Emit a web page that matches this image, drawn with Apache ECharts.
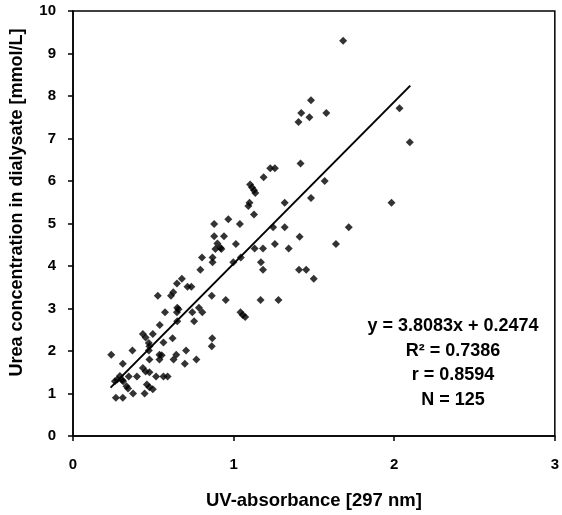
<!DOCTYPE html>
<html>
<head>
<meta charset="utf-8">
<script src="https://cdn.jsdelivr.net/npm/echarts@6/dist/echarts.min.js"></script>
<style>
  html, body { margin: 0; padding: 0; background: #fff; }
  #chart { width: 562px; height: 515px; }
</style>
</head>
<body>
<div id="chart"></div>
<script>
// UV-absorbance [297 nm]
const absorbance = [
  1.099, 1.092, 1.318, 1.127, 0.879, 0.967, 1.039, 0.879, 0.940, 0.899,
  0.918, 0.887, 0.924, 1.014, 1.246, 1.318, 1.411, 1.257, 1.343, 1.131,
  1.183, 1.170, 1.183, 1.407, 1.452, 1.045, 0.998, 0.803, 0.869, 0.869,
  0.793, 0.678, 0.647, 0.713, 0.737, 0.528, 0.610, 0.624, 0.864, 0.951,
  1.168, 1.279, 0.649, 0.657, 0.647, 0.573, 0.743, 0.784, 0.805, 0.754,
  0.649, 1.043, 1.057, 1.072, 0.540, 0.435, 0.452, 0.497, 0.472, 0.476,
  0.563, 0.620, 0.867, 0.864, 0.238, 0.370, 0.472, 0.538, 0.552, 0.704,
  0.643, 0.626, 0.696, 0.768, 0.310, 0.476, 0.538, 0.435, 0.452, 0.476,
  0.398, 0.517, 0.563, 0.589, 0.292, 0.275, 0.306, 0.347, 0.312, 0.261,
  0.333, 0.343, 0.460, 0.476, 0.497, 0.374, 0.446, 0.267, 0.310,
  1.103, 1.115, 1.127, 1.135, 1.187, 1.228, 1.257,
  1.682, 1.482, 1.421, 1.472, 1.404, 1.577, 2.033, 2.097, 1.417, 1.567,
  1.482, 1.983, 1.717, 1.637, 1.499
];
// Urea concentration in dialysate [mmol/L]
const urea = [
  5.49, 5.41, 5.49, 5.21, 4.99, 5.10, 4.99, 4.70, 4.70, 4.53,
  4.43, 4.40, 4.40, 4.52, 4.91, 4.91, 4.69, 4.52, 4.41, 4.41,
  4.41, 4.09, 3.91, 3.91, 3.91, 4.20, 4.09, 4.20, 4.20, 4.09,
  3.91, 3.70, 3.59, 3.51, 3.51, 3.30, 3.30, 3.38, 3.30, 3.20,
  3.20, 3.20, 3.02, 2.98, 2.91, 2.91, 2.91, 3.02, 2.91, 2.70,
  2.70, 2.91, 2.85, 2.80, 2.61, 2.40, 2.32, 2.40, 2.19, 2.11,
  2.20, 2.30, 2.30, 2.11, 1.91, 2.01, 2.01, 1.91, 1.90, 2.01,
  1.91, 1.80, 1.70, 1.80, 1.70, 1.80, 1.80, 1.60, 1.52, 1.50,
  1.40, 1.40, 1.40, 1.40, 1.41, 1.33, 1.32, 1.40, 1.29, 1.29,
  1.17, 1.12, 1.21, 1.15, 1.10, 1.00, 1.00, 0.90, 0.90,
  5.92, 5.85, 5.78, 5.72, 6.09, 6.30, 6.30,
  9.30, 7.90, 7.60, 7.50, 7.39, 7.60, 7.71, 6.91, 6.41, 6.00,
  5.60, 5.49, 4.91, 4.52, 3.70
];

// regression line from the fit
const slope = 3.8083;
const intercept = 0.2474;
const trendX = [0.234, 2.1];

const statLines = ['y = 3.8083x + 0.2474', 'R² = 0.7386', 'r = 0.8594', 'N = 125'];

const xTicks = ['0', '1', '2', '3'];
const yTicks = ['0', '1', '2', '3', '4', '5', '6', '7', '8', '9', '10'];

const font = 'Liberation Sans, Arial, sans-serif';

const chart = echarts.init(document.getElementById('chart'));

const points = absorbance.map((x, i) => [x, urea[i]]);
const trend = trendX.map(x => [x, slope * x + intercept]);

const option = {
  animation: false,
  grid: {
    left: 72.7,
    right: 2.5,
    top: 11,
    bottom: 76.7,
    show: true,
    borderColor: '#000',
    borderWidth: 1.5
  },
  xAxis: {
    type: 'value',
    min: 0,
    max: 3,
    interval: 1,
    name: 'UV-absorbance [297 nm]',
    nameLocation: 'middle',
    nameGap: 55,
    nameTextStyle: { color: '#000', fontSize: 18.5, fontWeight: 'bold', fontFamily: font },
    axisLine: { lineStyle: { color: '#000', width: 1.5 } },
    axisTick: { show: true, length: 5, lineStyle: { color: '#000', width: 1.5 } },
    axisLabel: {
      margin: 21,
      color: '#000',
      fontSize: 15,
      fontWeight: 'bold',
      fontFamily: font,
      formatter: v => xTicks[Math.round(v)]
    },
    splitLine: { show: false }
  },
  yAxis: {
    type: 'value',
    min: 0,
    max: 10,
    interval: 1,
    name: 'Urea concentration in dialysate [mmol/L]',
    nameLocation: 'middle',
    nameGap: 47,
    nameTextStyle: {
      color: '#000', fontSize: 18, fontWeight: 'bold', fontFamily: font,
      padding: [0, 0, 0, 42]
    },
    axisLine: { lineStyle: { color: '#000', width: 1.5 } },
    axisTick: { show: true, length: 5, lineStyle: { color: '#000', width: 1.5 } },
    axisLabel: {
      margin: 17,
      color: '#000',
      fontSize: 15,
      fontWeight: 'bold',
      fontFamily: font,
      formatter: v => yTicks[Math.round(v)]
    },
    splitLine: { show: false }
  },
  graphic: [
    {
      type: 'text',
      x: 453,
      y: 313.5,
      style: {
        text: statLines.join('\n'),
        textAlign: 'center',
        fill: '#000',
        font: 'bold 18px ' + font,
        lineHeight: 24.7
      }
    }
  ],
  series: [
    {
      type: 'scatter',
      data: points,
      symbol: 'diamond',
      symbolSize: 8,
      itemStyle: { color: '#000' },
      z: 3
    },
    {
      type: 'line',
      data: trend,
      symbol: 'none',
      lineStyle: { color: '#000', width: 2 },
      z: 2
    }
  ]
};

chart.setOption(option);
</script>
</body>
</html>
